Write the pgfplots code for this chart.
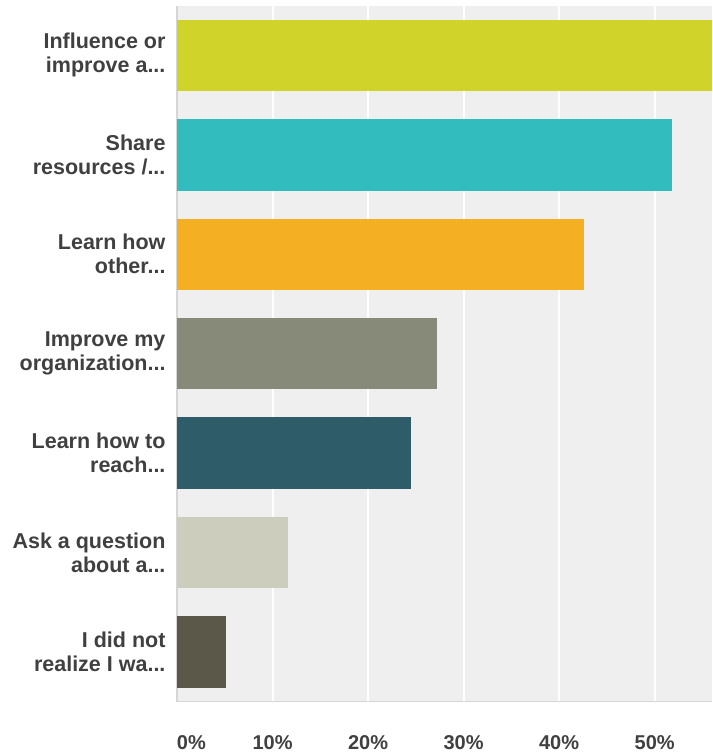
\documentclass[border=0pt]{standalone}
\usepackage{pgfplots}
\pgfplotsset{compat=1.18}
\usepackage{fontspec}
\setmainfont{Liberation Sans}
\newcommand{\el}{...}
\definecolor{bgray}{HTML}{EFEFEF}
\definecolor{axgray}{HTML}{D6D6D6}
\definecolor{txt}{HTML}{404040}
\definecolor{c1}{HTML}{D0D32A}
\definecolor{c2}{HTML}{33BCBE}
\definecolor{c3}{HTML}{F5AF22}
\definecolor{c4}{HTML}{888A79}
\definecolor{c5}{HTML}{2E5C69}
\definecolor{c6}{HTML}{CDCDBE}
\definecolor{c7}{HTML}{5B5849}
\begin{document}
\begin{tikzpicture}
\path[use as bounding box] (-177pt,-50.3pt) rectangle (535pt,701.7pt);
\begin{axis}[
    at={(0,0)}, anchor=south west,
    scale only axis,
    width=535pt, height=696pt,
    xbar, bar width=71.4pt, bar shift=0pt,
    xmin=0, xmax=56,
    ymin=-0.5, ymax=6.5,
    y dir=reverse,
    axis background/.style={fill=bgray},
    axis x line*=bottom, axis y line*=left,
    axis line style={axgray, line width=1.5pt},
    xtick={0,10,20,30,40,50},
    xticklabels={{\makebox[0pt][l]{0\%}},10\%,20\%,30\%,40\%,50\%},
    ytick={0,1,2,3,4,5,6},
    yticklabels={{Influence or\\improve a\el},{Share\\resources /\el},{Learn how\\other\el},{Improve my\\organization\el},{Learn how to\\reach\el},{Ask a question\\about a\el},{I did not\\realize I wa\el}},
    major tick length=0pt,
    xmajorgrids, grid style={white, line width=2pt},
    ymajorgrids=false,
    tick label style={text=txt},
    yticklabel style={align=right, xshift=-8pt, font=\fontsize{21.5}{24}\selectfont\bfseries},
    xticklabel style={anchor=north, yshift=-30pt, font=\fontsize{20}{24}\selectfont\bfseries},
    clip=true,
]
\addplot[fill=c1, draw=none] coordinates {(57,0)};
\addplot[fill=c2, draw=none] coordinates {(51.8,1)};
\addplot[fill=c3, draw=none] coordinates {(42.6,2)};
\addplot[fill=c4, draw=none] coordinates {(27.2,3)};
\addplot[fill=c5, draw=none] coordinates {(24.5,4)};
\addplot[fill=c6, draw=none] coordinates {(11.6,5)};
\addplot[fill=c7, draw=none] coordinates {(5.1,6)};
\end{axis}
\end{tikzpicture}
\end{document}
